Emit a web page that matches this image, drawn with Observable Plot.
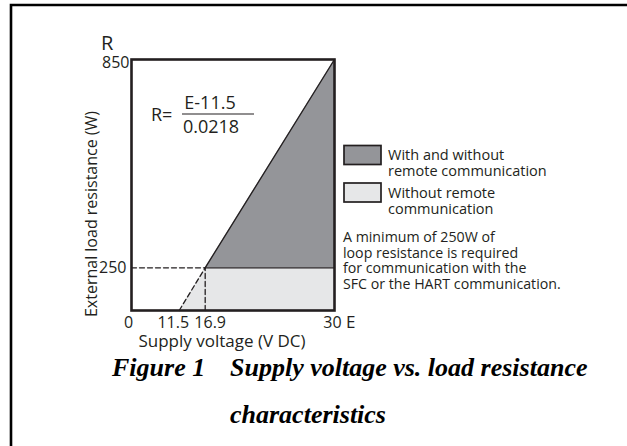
<!DOCTYPE html>
<html>
<head>
<meta charset="utf-8">
<script src="https://cdn.jsdelivr.net/npm/d3@7"></script>
<script src="https://cdn.jsdelivr.net/npm/@observablehq/plot@0.6"></script>
<style>
  html, body { margin: 0; padding: 0; background: #fff; }
  #chart { width: 627px; height: 446px; position: relative; overflow: hidden; }
  svg { display: block; }
</style>
</head>
<body>
<div id="chart"></div>
<script>
// ---- data ----
const xTickValues = [0, 11.5, 16.9, 30];      // supply voltage ticks (V DC)
const yTickValues = [250, 850];               // load resistance ticks (W)
const minVoltage = 11.5;                      // R = 0
const commVoltage = 16.9;                     // R = 250
const maxVoltage = 30;                        // R = 850
const minCommResistance = 250;
const maxResistance = 850;

// regions built from the values above
const darkRegion = [
  {E: commVoltage, R: minCommResistance, base: minCommResistance},
  {E: maxVoltage, R: maxResistance, base: minCommResistance}
];
const lightRegion = [
  {E: minVoltage, R: 0, base: 0},
  {E: commVoltage, R: minCommResistance, base: 0},
  {E: maxVoltage, R: minCommResistance, base: 0}
];
const slopeLine = [{E: commVoltage, R: minCommResistance}, {E: maxVoltage, R: maxResistance}];
const commLine = [{E: commVoltage, R: minCommResistance}, {E: maxVoltage, R: minCommResistance}];
const dashH = [{E: 0, R: minCommResistance}, {E: commVoltage, R: minCommResistance}];
const dashV = [{E: commVoltage, R: 0}, {E: commVoltage, R: minCommResistance}];
const dashSlope = [{E: minVoltage, R: 0}, {E: commVoltage, R: minCommResistance}];

const legendItems = [
  {label: ["With and without", "remote communication"], fill: "#949599"},
  {label: ["Without remote", "communication"], fill: "#e6e7e8"}
];
const noteLines = ["A minimum of 250W of", "loop resistance is required", "for communication with the", "SFC or the HART communication."];
const xTitle = "Supply voltage (V DC)";
const yTitle = "External load resistance (W)";
const captionNumber = "Figure 1";
const captionLines = ["Supply voltage vs. load resistance", "characteristics"];

const W = 627, H = 446;
const mL = 131, mR = 293, mT = 59, mB = 136;
const ink = "#231f20";
const sans = "'Open Sans', sans-serif";

// the drawing is schematic: axes are piecewise-linear between the labelled values
const xPiece = d3.scaleLinear().domain([0, minVoltage, commVoltage, maxVoltage]).range([0, 0.235, 0.363, 1]);
const yPiece = d3.scaleLinear().domain([0, minCommResistance, maxResistance]).range([0, 0.17, 1]);

// small horizontal nudges of the crowded tick labels (layout only)
const tickNudge = [-3, -6, 5, -2];

const plot = Plot.plot({
  width: W, height: H,
  marginLeft: mL, marginRight: mR, marginTop: mT, marginBottom: mB,
  style: {fontFamily: sans, fontSize: "16px", color: ink, background: "#fff"},
  x: {transform: xPiece, domain: [0, 1], label: null, axis: null},
  y: {transform: yPiece, domain: [0, 1], label: null, axis: null},
  marks: [
    Plot.areaY(lightRegion, {x: "E", y1: "base", y2: "R", fill: "#e6e7e8"}),
    Plot.areaY(darkRegion, {x: "E", y1: "base", y2: "R", fill: "#949599"}),
    Plot.line(slopeLine, {x: "E", y: "R", stroke: ink, strokeWidth: 1.3}),
    Plot.line(commLine, {x: "E", y: "R", stroke: ink, strokeWidth: 1.3}),
    Plot.line(dashH, {x: "E", y: "R", stroke: ink, strokeWidth: 1.3, strokeDasharray: "5,3"}),
    Plot.line(dashV, {x: "E", y: "R", stroke: ink, strokeWidth: 1.3, strokeDasharray: "5,3"}),
    Plot.line(dashSlope, {x: "E", y: "R", stroke: ink, strokeWidth: 1.3, strokeDasharray: "5,3"}),
    Plot.frame({stroke: ink, strokeWidth: 2.6}),
    // tick labels (drawn through the x / y scales)
    ...xTickValues.map((v, i) => Plot.text([v], {x: d => d, y: () => 0, text: d => String(d), dy: 12, dx: tickNudge[i], fontSize: 16, fill: ink, lineAnchor: "middle"})),
    Plot.text([yTickValues[0]], {x: () => 0, y: d => d, text: d => String(d), dx: -5, textAnchor: "end", fontSize: 16, fill: ink}),
    Plot.text([yTickValues[1]], {x: () => 0, y: d => d, text: d => String(d), dx: -2, dy: 3, textAnchor: "end", fontSize: 16, fill: ink})
  ]
});

document.getElementById("chart").appendChild(plot);
const svg = d3.select(plot);
const g = svg.append("g").attr("text-anchor", "start");

// outer page border
g.append("path").attr("d", `M11,${H} V5 H${W}`).attr("fill", "none").attr("stroke", "#000").attr("stroke-width", 2.6);

function txt(x, y, s, size, opts = {}) {
  return g.append("text").attr("x", x).attr("y", y)
    .attr("font-family", opts.family || sans).attr("font-size", size)
    .attr("text-anchor", opts.anchor || "start")
    .attr("font-style", opts.style || null).attr("font-weight", opts.weight || null)
    .attr("fill", opts.fill || ink).text(s);
}

// axis letters
txt(101, 50, "R", 20);
txt(346, 328, "E", 17);

// axis titles
txt(222, 347, xTitle, 17, {anchor: "middle"});
g.append("text").attr("transform", "translate(97,214) rotate(-90)").attr("text-anchor", "middle")
  .attr("font-family", sans).attr("font-size", 16).attr("fill", ink).text(yTitle);

// formula
txt(151, 121, "R=", 18);
txt(210, 109, "E-11.5", 18, {anchor: "middle"});
g.append("line").attr("x1", 182).attr("x2", 254).attr("y1", 114).attr("y2", 114).attr("stroke", ink).attr("stroke-width", 1.2);
txt(211, 133, "0.0218", 18, {anchor: "middle"});

// legend
legendItems.forEach((item, i) => {
  const y0 = 145.5 + i * 37.5;
  g.append("rect").attr("x", 344).attr("y", y0).attr("width", 37).attr("height", 19)
    .attr("fill", item.fill).attr("stroke", ink).attr("stroke-width", 1.7);
  item.label.forEach((t, j) => txt(388, y0 + 14.5 + j * 16, t, 14.5));
});
noteLines.forEach((t, j) => txt(343, 242 + j * 15.7, t, 14.2));

// caption
const serif = "'Liberation Serif', 'Times New Roman', serif";
txt(112, 376, captionNumber, 26, {family: serif, style: "italic", weight: "bold", fill: "#000"});
captionLines.forEach((t, j) => txt(230, 376 + j * 47, t, 26, {family: serif, style: "italic", weight: "bold", fill: "#000"}));
</script>
</body>
</html>
